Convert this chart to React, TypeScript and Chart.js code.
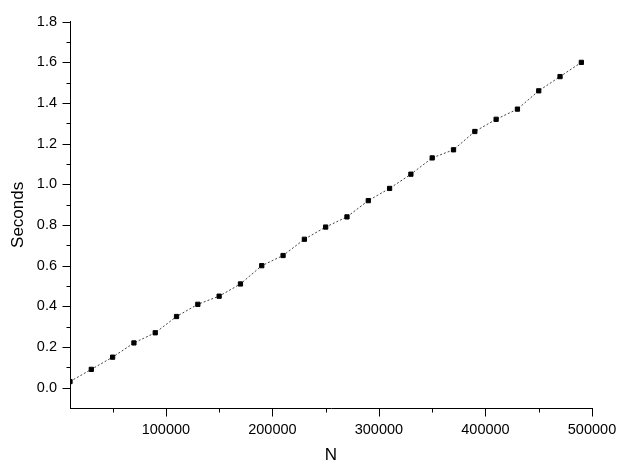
import React, { useEffect, useRef } from "react";
import { Chart, registerables } from "chart.js";

Chart.register(...registerables);

const nValues = [10000, 30000, 50000, 70000, 90000, 110000, 130000, 150000, 170000, 190000, 210000, 230000, 250000, 270000, 290000, 310000, 330000, 350000, 370000, 390000, 410000, 430000, 450000, 470000, 490000];
const seconds = [0.03, 0.09, 0.15, 0.22, 0.27, 0.35, 0.41, 0.45, 0.51, 0.60, 0.65, 0.73, 0.79, 0.84, 0.92, 0.98, 1.05, 1.13, 1.17, 1.26, 1.32, 1.37, 1.46, 1.53, 1.60];

const xMajorTicks = [100000, 200000, 300000, 400000, 500000];
const xMinorTicks = [50000, 150000, 250000, 350000, 450000];
const yMajorTicks = [0.0, 0.2, 0.4, 0.6, 0.8, 1.0, 1.2, 1.4, 1.6, 1.8];
const yMinorTicks = [0.1, 0.3, 0.5, 0.7, 0.9, 1.1, 1.3, 1.5, 1.7];

const xTitle = "N";
const yTitle = "Seconds";

const tickFont = { family: "'Liberation Sans', Arial, sans-serif", size: 14.5 };
const titleFont = { family: "'Liberation Sans', Arial, sans-serif", size: 17 };

const tickMarksPlugin = {
  id: "tickMarks",
  afterDraw(chart: any) {
    const ctx = chart.ctx;
    const xs = chart.scales.x;
    const ys = chart.scales.y;
    ctx.save();
    ctx.strokeStyle = "#000";
    ctx.lineWidth = 1;
    ctx.beginPath();
    const yAxisX = Math.round(chart.chartArea.left) + 0.5;
    const xAxisY = Math.round(chart.chartArea.bottom) + 0.5;
    yMajorTicks.forEach((v) => {
      const py = Math.round(ys.getPixelForValue(v)) + 0.5;
      ctx.moveTo(yAxisX - 8, py);
      ctx.lineTo(yAxisX, py);
    });
    yMinorTicks.forEach((v) => {
      const py = Math.round(ys.getPixelForValue(v)) + 0.5;
      ctx.moveTo(yAxisX - 4, py);
      ctx.lineTo(yAxisX, py);
    });
    xMajorTicks.forEach((v) => {
      const px = Math.round(xs.getPixelForValue(v)) + 0.5;
      ctx.moveTo(px, xAxisY);
      ctx.lineTo(px, xAxisY + 8);
    });
    xMinorTicks.forEach((v) => {
      const px = Math.round(xs.getPixelForValue(v)) + 0.5;
      ctx.moveTo(px, xAxisY);
      ctx.lineTo(px, xAxisY + 4);
    });
    ctx.stroke();
    ctx.restore();
  },
};

export default function App() {
  const canvasRef = useRef<HTMLCanvasElement | null>(null);

  useEffect(() => {
    document.body.style.margin = "0";
    const canvas = canvasRef.current;
    if (!canvas) return;
    const chart = new Chart(canvas, {
      type: "line",
      data: {
        datasets: [
          {
            data: nValues.map((n, i) => ({ x: n, y: seconds[i] })),
            borderColor: "#444",
            borderWidth: 1,
            borderDash: [2, 2],
            pointStyle: "rect",
            pointRadius: 3,
            pointBorderWidth: 1,
            pointBackgroundColor: "#000",
            pointBorderColor: "#000",
            fill: false,
            tension: 0,
          },
        ],
      },
      options: {
        animation: false,
        responsive: false,
        devicePixelRatio: 1,
        layout: { padding: { top: 19, right: 48, bottom: 0, left: 0 } },
        plugins: {
          legend: { display: false },
          tooltip: { enabled: false },
          title: { display: false },
        },
        scales: {
          x: {
            type: "linear",
            min: 10000,
            max: 500000,
            afterBuildTicks: (scale: any) => {
              scale.ticks = xMajorTicks.map((v) => ({ value: v }));
            },
            afterFit: (scale: any) => {
              scale.height = 58;
            },
            grid: { display: true, drawOnChartArea: false, drawTicks: false },
            border: { display: true, color: "#000", width: 1 },
            ticks: {
              color: "#000",
              font: tickFont,
              padding: 13,
              maxRotation: 0,
              autoSkip: false,
              callback: (v: any) => String(v),
            },
            title: {
              display: true,
              text: xTitle,
              color: "#000",
              font: titleFont,
              padding: { top: 0, bottom: 0 },
            },
          },
          y: {
            type: "linear",
            min: -0.1,
            max: 1.8,
            afterBuildTicks: (scale: any) => {
              scale.ticks = yMajorTicks.map((v) => ({ value: v }));
            },
            afterFit: (scale: any) => {
              scale.width = 70;
            },
            grid: { display: true, drawOnChartArea: false, drawTicks: false },
            border: { display: true, color: "#000", width: 1 },
            ticks: {
              color: "#000",
              font: tickFont,
              padding: 13,
              autoSkip: false,
              callback: (v: any) => Number(v).toFixed(1),
            },
            title: {
              display: true,
              text: yTitle,
              color: "#000",
              font: titleFont,
              padding: { top: 8, bottom: 0 },
            },
          },
        },
      },
      plugins: [tickMarksPlugin],
    });
    return () => chart.destroy();
  }, []);

  return (
    <div style={{ width: 640, height: 466, background: "#fff" }}>
      <canvas ref={canvasRef} width={640} height={466} style={{ display: "block", width: 640, height: 466 }} />
    </div>
  );
}
